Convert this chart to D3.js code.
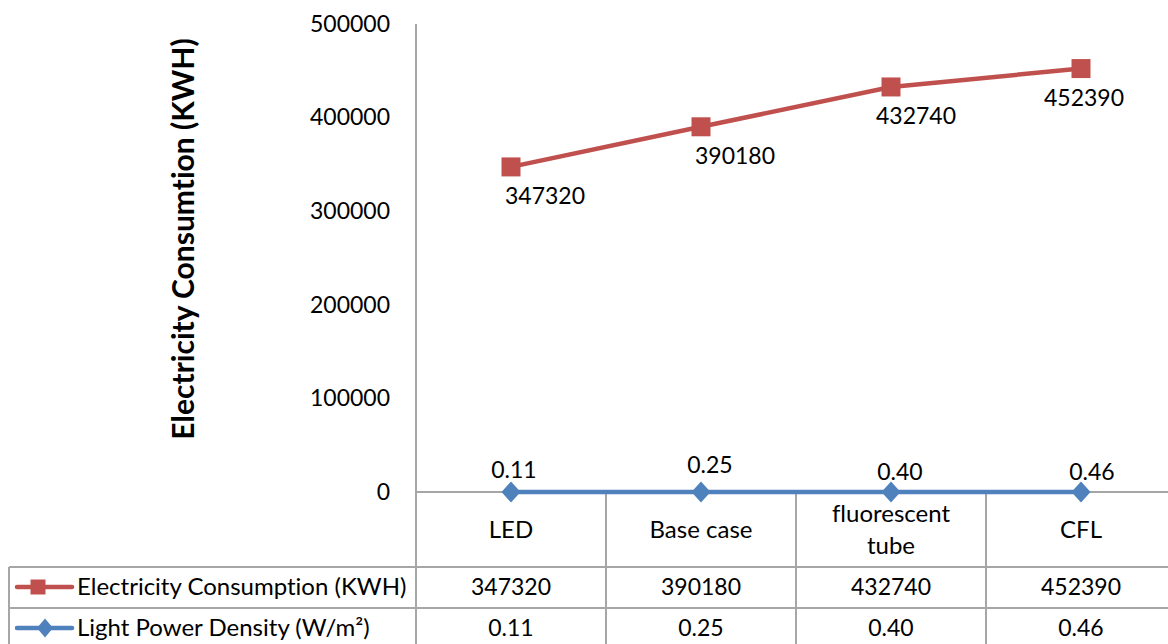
<!DOCTYPE html>
<html><head><meta charset="utf-8">
<script src="https://cdn.jsdelivr.net/npm/d3@7/dist/d3.min.js"></script>
<style>
html,body{margin:0;padding:0;background:#fff;}
svg text{font-family:Lato,"Open Sans",sans-serif;fill:#000;font-variant-ligatures:none;font-feature-settings:"liga" 0;}
</style></head>
<body>
<svg id="c" width="1168" height="644"></svg>
<script>
const categories = ["LED", "Base case", "fluorescent tube", "CFL"];
const categoryLines = [["LED"], ["Base case"], ["fluorescent", "tube"], ["CFL"]];
const electricity = [347320, 390180, 432740, 452390];
const lpd = [0.11, 0.25, 0.40, 0.46];
const lpdLabels = ["0.11", "0.25", "0.40", "0.46"];
const yTicks = [0, 100000, 200000, 300000, 400000, 500000];
const seriesNames = ["Electricity Consumption (KWH)", "Light Power Density (W/m²)"];
const yTitle = "Electricity Consumtion (KWH)";

// label placement offsets (styling)
const elecLabelDx = [34, 34, 25, 3];
const lpdLabelDx = [3, 9, 9, 11];
const lpdLabelDy = [-22, -27, -20, -20];

const RED = "#C0504D", BLUE = "#4F81BD", GRID = "#a6a6a6";
const svg = d3.select("#c");
const fsNum = 23, fsTxt = 24;

const x = d3.scaleBand().domain(categories).range([416, 1176]).padding(0);
const y = d3.scaleLinear().domain([0, 500000]).range([492, 24]);
const cx = c => x(c) + x.bandwidth() / 2;

// y axis via d3
const yAxis = d3.axisLeft(y).tickValues(yTicks).tickSize(0).tickPadding(26).tickFormat(d3.format("d"));
const ga = svg.append("g").attr("transform", "translate(416,0)").call(yAxis);
ga.select(".domain").remove();
ga.selectAll("text").style("font-size", fsNum + "px").attr("font-family", "Lato");

// axis lines
svg.append("line").attr("x1", 416).attr("x2", 416).attr("y1", y(500000)).attr("y2", 644)
  .attr("stroke", GRID).attr("stroke-width", 2);
svg.append("line").attr("x1", 416).attr("x2", 1168).attr("y1", y(0)).attr("y2", y(0))
  .attr("stroke", GRID).attr("stroke-width", 2);

// table grid
const row1 = 567, row2 = 608;
[row1, row2].forEach(yy => svg.append("line").attr("x1", 9).attr("x2", 1168).attr("y1", yy).attr("y2", yy)
  .attr("stroke", GRID).attr("stroke-width", 2));
svg.append("line").attr("x1", 9).attr("x2", 9).attr("y1", row1).attr("y2", 644).attr("stroke", GRID).attr("stroke-width", 2);
categories.slice(1).forEach(c => svg.append("line").attr("x1", x(c)).attr("x2", x(c)).attr("y1", y(0)).attr("y2", 644)
  .attr("stroke", GRID).attr("stroke-width", 2));

// y title
svg.append("text").attr("transform", "translate(183,239) rotate(-90)").attr("text-anchor", "middle")
  .attr("dy", "0.35em").style("font-size", "30px").style("font-weight", "bold").text(yTitle);

// series lines
const lineGen = d3.line().x(d => cx(d.c)).y(d => y(d.v));
const elecData = categories.map((c, i) => ({c, v: electricity[i]}));
const lpdData = categories.map((c, i) => ({c, v: lpd[i]}));
svg.append("path").datum(elecData).attr("d", lineGen).attr("fill", "none").attr("stroke", RED).attr("stroke-width", 4.5);
svg.append("path").datum(lpdData).attr("d", lineGen).attr("fill", "none").attr("stroke", BLUE).attr("stroke-width", 4.5);

function square(s) { return `M${-s},${-s}H${s}V${s}H${-s}Z`; }
function diamond(sx, sy) { return `M0,${-sy}L${sx},0L0,${sy}L${-sx},0Z`; }

svg.selectAll(".em").data(elecData).join("path").attr("d", square(9.5))
  .attr("transform", d => `translate(${cx(d.c)},${y(d.v)})`).attr("fill", RED);
svg.selectAll(".lm").data(lpdData).join("path").attr("d", diamond(9.5, 10.5))
  .attr("transform", d => `translate(${cx(d.c)},${y(d.v)})`).attr("fill", BLUE);

// data labels
svg.selectAll(".el").data(elecData).join("text")
  .attr("x", (d, i) => cx(d.c) + elecLabelDx[i]).attr("y", d => y(d.v) + 29)
  .attr("dy", "0.35em").attr("text-anchor", "middle").style("font-size", fsNum + "px").text(d => d.v);
svg.selectAll(".ll").data(lpdData).join("text")
  .attr("x", (d, i) => cx(d.c) + lpdLabelDx[i]).attr("y", (d, i) => y(d.v) + lpdLabelDy[i])
  .attr("dy", "0.35em").attr("text-anchor", "middle").style("font-size", fsNum + "px").text((d, i) => lpdLabels[i]);

// category labels
categoryLines.forEach((lines, i) => {
  const c = categories[i];
  const mid = 530, lh = 32;
  lines.forEach((t, j) => {
    svg.append("text").attr("x", cx(c)).attr("y", mid + (j - (lines.length - 1) / 2) * lh)
      .attr("dy", "0.35em").attr("text-anchor", "middle").style("font-size", fsTxt + "px").text(t);
  });
});

// table rows
const rows = [{name: seriesNames[0], vals: electricity.map(String), color: RED, shape: "sq", yc: 587, mx: 38},
              {name: seriesNames[1], vals: lpdLabels, color: BLUE, shape: "dm", yc: 628, mx: 45}];
rows.forEach(r => {
  svg.append("line").attr("x1", 17).attr("x2", 72).attr("y1", r.yc).attr("y2", r.yc)
    .attr("stroke", r.color).attr("stroke-width", 4.5).attr("stroke-linecap", "round");
  svg.append("path").attr("d", r.shape === "sq" ? square(7.5) : diamond(8, 9.5))
    .attr("transform", `translate(${r.mx},${r.yc})`).attr("fill", r.color);
  svg.append("text").attr("x", 77).attr("y", r.yc).attr("dy", "0.35em").style("font-size", fsTxt + "px").text(r.name);
  categories.forEach((c, i) => svg.append("text").attr("x", cx(c)).attr("y", r.yc).attr("dy", "0.35em")
    .attr("text-anchor", "middle").style("font-size", fsNum + "px").text(r.vals[i]));
});
</script>
</body></html>
